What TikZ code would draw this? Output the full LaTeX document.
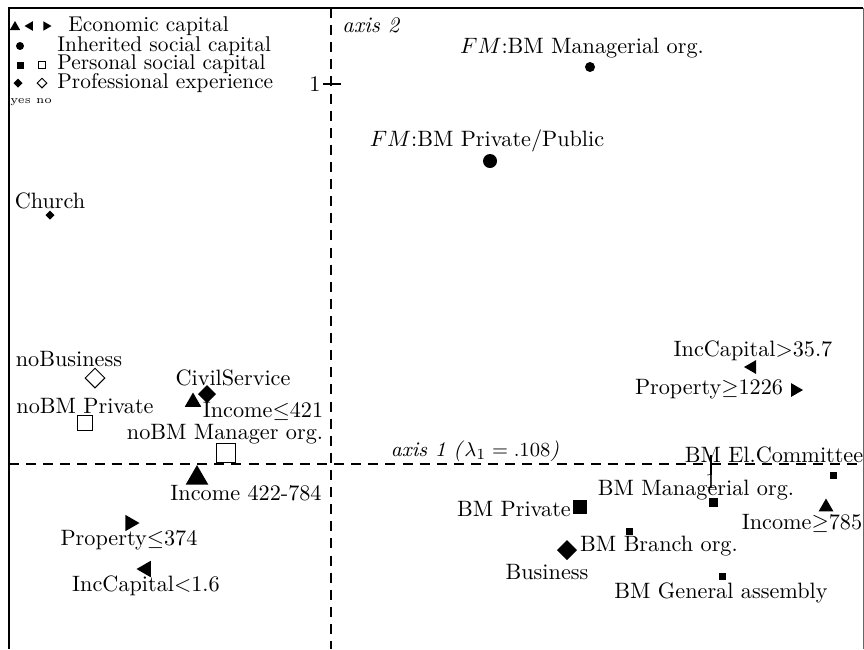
\documentclass[tikz,border=0pt]{standalone}
\usetikzlibrary{shapes.geometric}
\begin{document}
\begin{tikzpicture}[x=0.45pt,y=-0.45pt,
  lbl/.style={inner sep=0pt,font=\fontsize{10}{11}\selectfont},
  leg/.style={inner sep=0pt,anchor=west,font=\fontsize{9.6}{10}\selectfont},
  mk/.style={inner sep=0pt,outer sep=0pt,fill=black,draw=none},
  tup/.style={mk,regular polygon,regular polygon sides=3,minimum size={#1*0.45pt}},
  tleft/.style={mk,regular polygon,regular polygon sides=3,shape border rotate=90,minimum size={#1*0.45pt}},
  tright/.style={mk,regular polygon,regular polygon sides=3,shape border rotate=-90,minimum size={#1*0.45pt}},
  dot/.style={mk,circle,minimum size={#1*0.45pt}},
  sq/.style={mk,rectangle,minimum size={#1*0.45pt}},
  osq/.style={inner sep=0pt,rectangle,draw=black,line width=0.45pt,fill=white,minimum size={#1*0.45pt}},
  dia/.style={mk,diamond,minimum size={#1*0.45pt}},
  odia/.style={inner sep=0pt,diamond,draw=black,line width=0.45pt,fill=white,minimum size={#1*0.45pt}},
  axisline/.style={line width=0.9pt,dash pattern=on 4.5pt off 3.2pt},
  frameline/.style={line width=0.9pt},
]
\useasboundingbox (0,0) rectangle (864,649);
% frame
\coordinate (fbl) at (9,649);
\coordinate (ftl) at (9,8);
\coordinate (ftr) at (863,8);
\coordinate (fbr) at (863,649);
\draw[frameline] (fbl) -- (ftl) -- (ftr);
\draw[line width=0.45pt,black!60] (ftr) -- (fbr);
% axes
\coordinate (vtop) at (331,8);
\coordinate (vbot) at (331,649);
\coordinate (hl) at (9,464);
\coordinate (hr) at (863,464);
\draw[axisline] (vtop) -- (vbot);
\draw[axisline] (hl) -- (hr);
% ticks
\coordinate (t1a) at (323,84);
\coordinate (t1b) at (341,84);
\draw[line width=0.5pt] (t1a) -- (t1b);
\node[lbl,anchor=east] (one2) at (321,84) {1};
\coordinate (t2a) at (711,455);
\coordinate (t2b) at (711,475);
\draw[line width=0.5pt] (t2a) -- (t2b);
\node[lbl] (one1) at (711,481) {1};
% axis labels
\node[lbl,anchor=west] (ax2) at (342,25) {\itshape axis 2};
\node[lbl,font=\fontsize{9.4}{10}\selectfont] (ax1) at (475,451) {\textit{axis 1 (}$\lambda_1=.108$\textit{)}};
% legend
\node[tup=12] (l1a) at (15,27) {};
\node[tleft=11] (l1b) at (30,26) {};
\node[tright=11] (l1c) at (46,26) {};
\node[leg] (l1t) at (68,26) {Economic capital};
\node[dot=8] (l2a) at (20,46) {};
\node[leg] (l2t) at (57,46) {Inherited social capital};
\node[sq=7] (l3a) at (20,65) {};
\node[osq=7] (l3b) at (42,65) {};
\node[leg] (l3t) at (57,64) {Personal social capital};
\node[dia=9] (l4a) at (18,83) {};
\node[odia=10] (l4b) at (42,83) {};
\node[leg] (l4t) at (57,83) {Professional experience};
\node[inner sep=0pt,anchor=west,font=\fontsize{5}{6}\selectfont] (l5t) at (10,102) {yes no};
% points upper half
\node[dot=10] (p1) at (590,67) {};
\node[lbl] (p1t) at (582,48) {$FM$:BM Managerial org.};
\node[dot=14] (p2) at (490,161) {};
\node[lbl] (p2t) at (487,141) {$FM$:BM Private/Public};
\node[dia=9] (p3) at (50,215) {};
\node[lbl] (p3t) at (50,201) {Church};
\node[odia=20] (p4) at (95,378) {};
\node[lbl] (p4t) at (69,359) {noBusiness};
\node[dia=18] (p5) at (207,394) {};
\node[lbl] (p5t) at (233,378) {CivilService};
\node[tup=19] (p6) at (193,402) {};
\node[lbl] (p6t) at (263,411) {Income$\leq$421};
\node[osq=15] (p7) at (85,423) {};
\node[lbl] (p7t) at (85,406) {noBM Private};
\node[osq=19] (p8) at (226,453) {};
\node[lbl] (p8t) at (225,434) {noBM Manager org.};
\node[tup=26] (p9) at (197,478) {};
\node[lbl] (p9t) at (246,493) {Income 422-784};
\node[tright=19] (p10) at (130,523) {};
\node[lbl] (p10t) at (129,540) {Property$\leq$374};
\node[tleft=19] (p11) at (146,569) {};
\node[lbl] (p11t) at (146,586) {IncCapital$<$1.6};
\node[tleft=16] (p12) at (752,367) {};
\node[lbl] (p12t) at (753,351) {IncCapital$>$35.7};
\node[tright=16] (p13) at (795,390) {};
\node[lbl] (p13t) at (709,389) {Property$\geq$1226};
% lower right
\node[sq=7] (p14) at (833,475) {};
\node[lbl] (p14t) at (774,455) {BM El.Committee};
\node[sq=9] (p15) at (713,502) {};
\node[lbl] (p15t) at (696,490) {BM Managerial org.};
\node[sq=14] (p16) at (580,507) {};
\node[lbl] (p16t) at (514,509) {BM Private};
\node[tup=17] (p17) at (826,507) {};
\node[lbl] (p17t) at (802,523) {Income$\geq$785};
\node[sq=7] (p18) at (629,531) {};
\node[lbl] (p18t) at (659,546) {BM Branch org.};
\node[dia=20] (p19) at (567,550) {};
\node[lbl] (p19t) at (547,572) {Business};
\node[sq=7] (p20) at (722,576) {};
\node[lbl] (p20t) at (721,593) {BM General assembly};
\end{tikzpicture}
\end{document}
